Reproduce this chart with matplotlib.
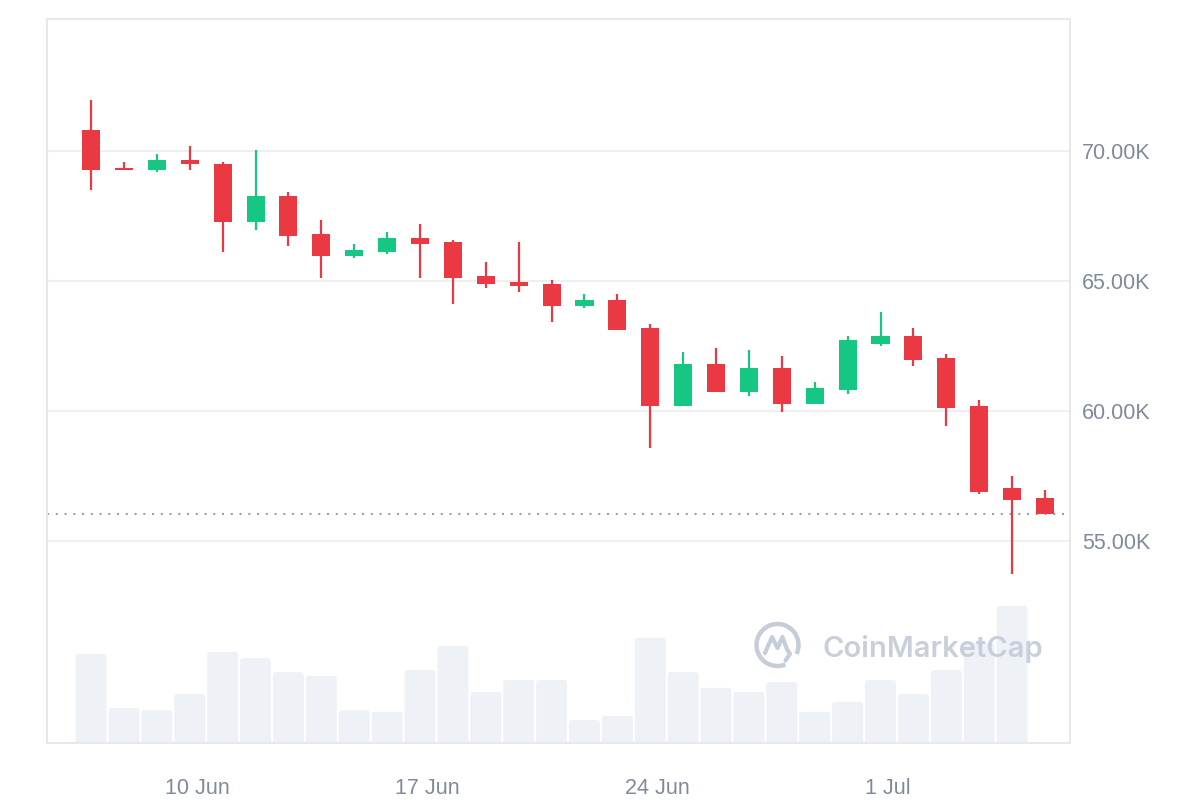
import matplotlib
matplotlib.use("Agg")
import matplotlib.pyplot as plt
import numpy as np
from matplotlib.patches import FancyBboxPatch, Arc, PathPatch
from matplotlib.path import Path

# ---------------- data ----------------
dates = ["7 Jun", "8 Jun", "9 Jun", "10 Jun", "11 Jun", "12 Jun", "13 Jun", "14 Jun",
         "15 Jun", "16 Jun", "17 Jun", "18 Jun", "19 Jun", "20 Jun", "21 Jun", "22 Jun",
         "23 Jun", "24 Jun", "25 Jun", "26 Jun", "27 Jun", "28 Jun", "29 Jun", "30 Jun",
         "1 Jul", "2 Jul", "3 Jul", "4 Jul", "5 Jul", "6 Jul"]
opens = [70808, 69346, 69269, 69654, 69500, 67281, 68269, 66808, 65962, 66115,
         66654, 66500, 65192, 64962, 64885, 64038, 64269, 63192, 60192, 61808,
         60731, 61654, 60269, 60808, 62577, 62885, 62038, 60192, 57038, 56654]
highs = [71962, 69577, 69885, 70192, 69577, 70038, 68423, 67346, 66423, 66885,
         67192, 66577, 65731, 66500, 65038, 64500, 64500, 63346, 62269, 62423,
         62346, 62115, 61115, 62885, 63808, 63192, 62192, 60423, 57500, 56962]
lows = [68500, 69269, 69192, 69269, 66115, 66962, 66346, 65115, 65885, 66038,
        65115, 64115, 64731, 64577, 63423, 63962, 63115, 58577, 60192, 60731,
        60577, 59962, 60269, 60654, 62500, 61731, 59423, 56808, 53731, 56038]
closes = [69269, 69269, 69654, 69500, 67281, 68269, 66742, 65962, 66192, 66654,
          66423, 65115, 64885, 64808, 64038, 64269, 63115, 60192, 61808, 60731,
          61654, 60269, 60885, 62731, 62885, 61962, 60115, 56885, 56577, 56038]
# volume in billions USD (last day has no bar)
volumes = [26.0, 10.2, 9.6, 14.3, 26.6, 24.8, 20.7, 19.6, 9.6, 9.1,
           21.3, 28.3, 14.9, 18.4, 18.4, 6.7, 7.9, 30.7, 20.7, 16.1,
           14.9, 17.8, 9.1, 12.0, 18.4, 14.3, 21.3, 29.2, 40.0]
tick_dates = ["10 Jun", "17 Jun", "24 Jun", "1 Jul"]
price_ticks = [55000, 60000, 65000, 70000]

# ---------------- style ----------------
UP = "#16c784"
DOWN = "#ea3943"
VOL = "#eef1f5"
GRID = "#efefef"
FRAME = "#e8e8e8"
LABEL = "#808a9d"
FONT = "Liberation Sans"

fig = plt.figure(figsize=(12, 8), dpi=100)
fig.patch.set_facecolor("white")
rect = [47 / 1200, 57 / 800, (1070 - 47) / 1200, (743 - 19) / 800]

x = np.arange(len(dates))
xlim = (-1.34, 29.76)

# volume axes (behind)
vax = fig.add_axes(rect)
vax.set_xlim(*xlim)
vax.set_ylim(0, 211.4)
vax.axis("off")
bar_w = 0.94
xrange_px = (1070 - 47) / (xlim[1] - xlim[0])
yrange_px = (743 - 19) / 211.4
asp = xrange_px / yrange_px
for xi, v in zip(x[:len(volumes)], volumes):
    p = FancyBboxPatch((xi - bar_w / 2, -3), bar_w, v + 3,
                       boxstyle="round,pad=0,rounding_size=0.1",
                       mutation_aspect=asp, facecolor=VOL, edgecolor="none")
    vax.add_patch(p)

# price axes (front)
ax = fig.add_axes(rect)
ax.patch.set_alpha(0)
ax.set_xlim(*xlim)
ax.set_ylim(47231, 75077)

for s in ax.spines.values():
    s.set_color(FRAME)
    s.set_linewidth(1.5)

for t in price_ticks:
    ax.axhline(t, color=GRID, lw=1.5, zorder=1)

o = np.array(opens); c = np.array(closes); h = np.array(highs); l = np.array(lows)
cols = [UP if cc >= oo else DOWN for oo, cc in zip(o, c)]
ax.vlines(x, l, h, colors=cols, lw=1.6, zorder=3)
ax.bar(x, np.maximum(np.abs(c - o), 60), bottom=np.minimum(o, c), width=0.55,
       color=cols, zorder=4, linewidth=0)

# last price dotted line
ax.axhline(closes[-1], color="#9aa1ad", lw=1.5, linestyle=(0, (1, 3.2)), zorder=2)

ax.yaxis.tick_right()
ax.set_yticks(price_ticks)
ax.set_yticklabels([f"{t/1000:.2f}K" for t in price_ticks])
ax.tick_params(axis="y", length=0, pad=8.5, labelsize=15.5, labelcolor=LABEL)
ax.set_xticks([dates.index(d) + 0.22 for d in tick_dates])
ax.set_xticklabels(tick_dates)
ax.tick_params(axis="x", length=0, pad=25, labelsize=15.5, labelcolor=LABEL)
for lab in ax.get_xticklabels() + ax.get_yticklabels():
    lab.set_fontfamily(FONT)

# watermark
WM = "#c5cdd9"
fig.text(822 / 1200, 1 - 649 / 800, "CoinMarketCap", fontsize=21, fontweight="semibold",
         family=["Inter", "DejaVu Sans"], color=WM, alpha=0.95, ha="left", va="center", zorder=10)
lax = fig.add_axes([(777.5 - 25) / 1200, 1 - (645 + 25) / 800, 50 / 1200, 50 / 800])
lax.set_xlim(-1, 1); lax.set_ylim(-1, 1); lax.axis("off")
lax.add_patch(Arc((0, 0), 1.68, 1.68, theta1=-25, theta2=292, lw=3.2, color=WM))
verts = [(-0.5, -0.32), (-0.22, 0.32), (0.0, -0.12), (0.2, 0.32), (0.38, -0.18),
         (0.5, -0.35), (0.32, -0.62)]
lax.add_patch(PathPatch(Path(verts), fill=False, lw=3.0, edgecolor=WM,
                        capstyle="round", joinstyle="round"))

fig.savefig("out.png", dpi=100, facecolor="white")
